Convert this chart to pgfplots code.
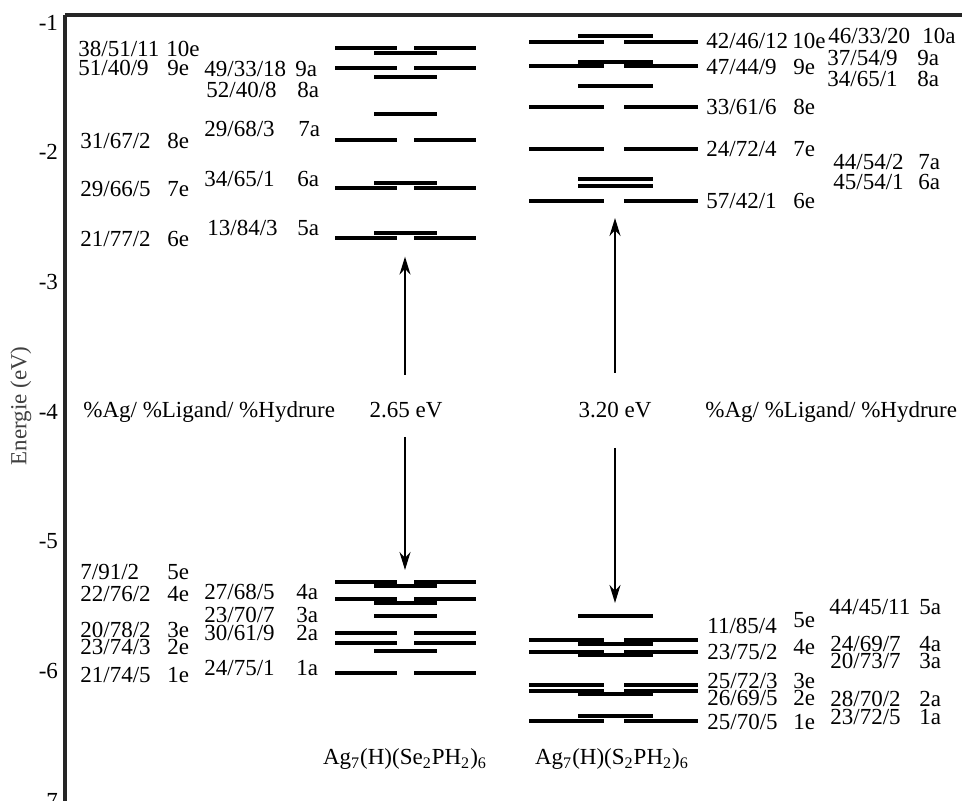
\documentclass[border=0pt]{standalone}
\usepackage{fontspec}
\setmainfont{Liberation Serif}
\usepackage{pgfplots}
\pgfplotsset{compat=1.18}
\usetikzlibrary{arrows.meta}

% label helpers: x in pixel units, y given as pixel row of the text centre
\newcommand{\lab}[3]{\node[anchor=base west,inner sep=0pt] at (axis cs:#1,{-3-(#2+7.5-282)/129.7}) {#3};}
\newcommand{\labc}[3]{\node[anchor=base,inner sep=0pt] at (axis cs:#1,{-3-(#2+7.5-282)/129.7}) {#3};}
\tikzset{level/.style={line width=2pt, black},
         gap/.style={line width=1pt, black, -{Stealth[length=9pt,width=5.5pt]}}}

\begin{document}
\begin{tikzpicture}[font=\fontsize{11.5}{13}\selectfont]
\begin{axis}[
  scale only axis, width=448.5pt, height=392.9pt,
  xmin=65, xmax=962, ymin=-7, ymax=-0.941,
  axis x line*=top, axis y line*=left,
  axis line style={line width=1.6pt, black!85, -},
  xtick=\empty, ytick={-7,-6,-5,-4,-3,-2,-1},
  yticklabels={-7,-6,-5,-4,-3,-2,-1},
  major tick length=0pt,
  yticklabel style={font=\fontsize{11.5}{13}\selectfont},
  clip=false,
  unbounded coords=jump,
]
% ---- Ag7(H)(Se2PH2)6 : e levels (two segments)
\addplot[level] coordinates {
(335,-1.194) (397,-1.194) (397,nan) (414,-1.194) (476,-1.194) (476,nan)
(335,-1.348) (397,-1.348) (397,nan) (414,-1.348) (476,-1.348) (476,nan)
(335,-1.905) (397,-1.905) (397,nan) (414,-1.905) (476,-1.905) (476,nan)
(335,-2.273) (397,-2.273) (397,nan) (414,-2.273) (476,-2.273) (476,nan)
(335,-2.658) (397,-2.658) (397,nan) (414,-2.658) (476,-2.658) (476,nan)
(335,-5.311) (397,-5.311) (397,nan) (414,-5.311) (476,-5.311) (476,nan)
(335,-5.446) (397,-5.446) (397,nan) (414,-5.446) (476,-5.446) (476,nan)
(335,-5.704) (397,-5.704) (397,nan) (414,-5.704) (476,-5.704) (476,nan)
(335,-5.781) (397,-5.781) (397,nan) (414,-5.781) (476,-5.781) (476,nan)
(335,-6.012) (397,-6.012) (397,nan) (414,-6.012) (476,-6.012) (476,nan)
};
% ---- Ag7(H)(Se2PH2)6 : a levels
\addplot[level] coordinates {
(374,-1.237) (437,-1.237) (437,nan)
(374,-1.417) (437,-1.417) (437,nan)
(374,-1.707) (437,-1.707) (437,nan)
(374,-2.234) (437,-2.234) (437,nan)
(374,-2.625) (437,-2.625) (437,nan)
(374,-5.342) (437,-5.342) (437,nan)
(374,-5.477) (437,-5.477) (437,nan)
(374,-5.575) (437,-5.575) (437,nan)
(374,-5.843) (437,-5.843) (437,nan)
};
% ---- Ag7(H)(S2PH2)6 : e levels
\addplot[level] coordinates {
(529,-1.147) (604,-1.147) (604,nan) (624,-1.147) (698,-1.147) (698,nan)
(529,-1.335) (604,-1.335) (604,nan) (624,-1.335) (698,-1.335) (698,nan)
(529,-1.648) (604,-1.648) (604,nan) (624,-1.648) (698,-1.648) (698,nan)
(529,-1.977) (604,-1.977) (604,nan) (624,-1.977) (698,-1.977) (698,nan)
(529,-2.373) (604,-2.373) (604,nan) (624,-2.373) (698,-2.373) (698,nan)
(529,-5.760) (604,-5.760) (604,nan) (624,-5.760) (698,-5.760) (698,nan)
(529,-5.850) (604,-5.850) (604,nan) (624,-5.850) (698,-5.850) (698,nan)
(529,-6.107) (604,-6.107) (604,nan) (624,-6.107) (698,-6.107) (698,nan)
(529,-6.151) (604,-6.151) (604,nan) (624,-6.151) (698,-6.151) (698,nan)
(529,-6.385) (604,-6.385) (604,nan) (624,-6.385) (698,-6.385) (698,nan)
};
% ---- Ag7(H)(S2PH2)6 : a levels
\addplot[level] coordinates {
(578,-1.101) (653,-1.101) (653,nan)
(578,-1.301) (653,-1.301) (653,nan)
(578,-1.487) (653,-1.487) (653,nan)
(578,-2.208) (653,-2.208) (653,nan)
(578,-2.260) (653,-2.260) (653,nan)
(578,-5.575) (653,-5.575) (653,nan)
(578,-5.791) (653,-5.791) (653,nan)
(578,-5.876) (653,-5.876) (653,nan)
(578,-6.177) (653,-6.177) (653,nan)
(578,-6.346) (653,-6.346) (653,nan)
};
% ---- HOMO-LUMO gap arrows
\addplot[gap] coordinates {(405,-3.717) (405,-2.805)};
\addplot[gap] coordinates {(405,-4.195) (405,-5.221)};
\addplot[gap] coordinates {(615,-3.702) (615,-2.507)};
\addplot[gap] coordinates {(615,-4.280) (615,-5.475)};

% ---- axis title
\node[rotate=90, text=black!75] at (axis cs:21,-3.956) {Energie (eV)};

% ---- Se labels, upper
\lab{78}{49}{38/51/11}  \lab{166}{49}{10e}
\lab{78}{68}{51/40/9}   \lab{167}{68}{9e}
\lab{80}{141}{31/67/2}  \lab{167}{141}{8e}
\lab{80}{189}{29/66/5}  \lab{167}{189}{7e}
\lab{80}{239}{21/77/2}  \lab{167}{239}{6e}
\lab{204}{69}{49/33/18} \lab{295}{69}{9a}
\lab{206}{90}{52/40/8}  \lab{297}{90}{8a}
\lab{204}{129}{29/68/3} \lab{298}{129}{7a}
\lab{204}{179}{34/65/1} \lab{297}{179}{6a}
\lab{207}{228}{13/84/3} \lab{297}{228}{5a}
% ---- Se labels, lower
\lab{80}{572}{7/91/2}   \lab{167}{572}{5e}
\lab{80}{594}{22/76/2}  \lab{167}{594}{4e}
\lab{80}{630}{20/78/2}  \lab{167}{630}{3e}
\lab{80}{647}{23/74/3}  \lab{167}{647}{2e}
\lab{80}{675}{21/74/5}  \lab{167}{675}{1e}
\lab{204}{592}{27/68/5} \lab{296}{592}{4a}
\lab{204}{615}{23/70/7} \lab{296}{615}{3a}
\lab{204}{633}{30/61/9} \lab{296}{633}{2a}
\lab{204}{668}{24/75/1} \lab{296}{668}{1a}
% ---- S labels, upper
\lab{706}{41}{42/46/12} \lab{792}{41}{10e}
\lab{706}{67}{47/44/9}  \lab{793}{67}{9e}
\lab{706}{107}{33/61/6} \lab{793}{107}{8e}
\lab{706}{149}{24/72/4} \lab{793}{149}{7e}
\lab{706}{201}{57/42/1} \lab{793}{201}{6e}
\lab{828}{36}{46/33/20} \lab{922}{36}{10a}
\lab{827}{58}{37/54/9}  \lab{917}{58}{9a}
\lab{827}{79}{34/65/1}  \lab{917}{79}{8a}
\lab{833}{162}{44/54/2} \lab{918}{162}{7a}
\lab{833}{182}{45/54/1} \lab{918}{182}{6a}
% ---- S labels, lower
\lab{829}{607}{44/45/11} \lab{919}{607}{5a}
\lab{707}{626}{11/85/4}  \lab{793}{620}{5e}
\lab{707}{652}{23/75/2}  \lab{793}{647}{4e}
\lab{830}{644}{24/69/7}  \lab{919}{644}{4a}
\lab{830}{661}{20/73/7}  \lab{919}{661}{3a}
\lab{707}{681}{25/72/3}  \lab{793}{681}{3e}
\lab{707}{698}{26/69/5}  \lab{793}{698}{2e}
\lab{830}{699}{28/70/2}  \lab{919}{699}{2a}
\lab{707}{722}{25/70/5}  \lab{793}{722}{1e}
\lab{830}{717}{23/72/5}  \lab{919}{717}{1a}
% ---- middle annotations
\lab{83}{410}{\%Ag/ \%Ligand/ \%Hydrure}
\labc{406}{410}{2.65 eV}
\labc{615}{410}{3.20 eV}
\lab{705}{410}{\%Ag/ \%Ligand/ \%Hydrure}
% ---- compound names
\labc{405}{757.5}{Ag\textsubscript{7}(H)(Se\textsubscript{2}PH\textsubscript{2})\textsubscript{6}}
\labc{612}{757.5}{Ag\textsubscript{7}(H)(S\textsubscript{2}PH\textsubscript{2})\textsubscript{6}}

\coordinate (bbSW) at (axis cs:0,-7.0015);
\coordinate (bbNE) at (axis cs:962,-0.826);
\end{axis}
\pgfresetboundingbox
\useasboundingbox (bbSW) rectangle (bbNE);
\end{tikzpicture}
\end{document}
